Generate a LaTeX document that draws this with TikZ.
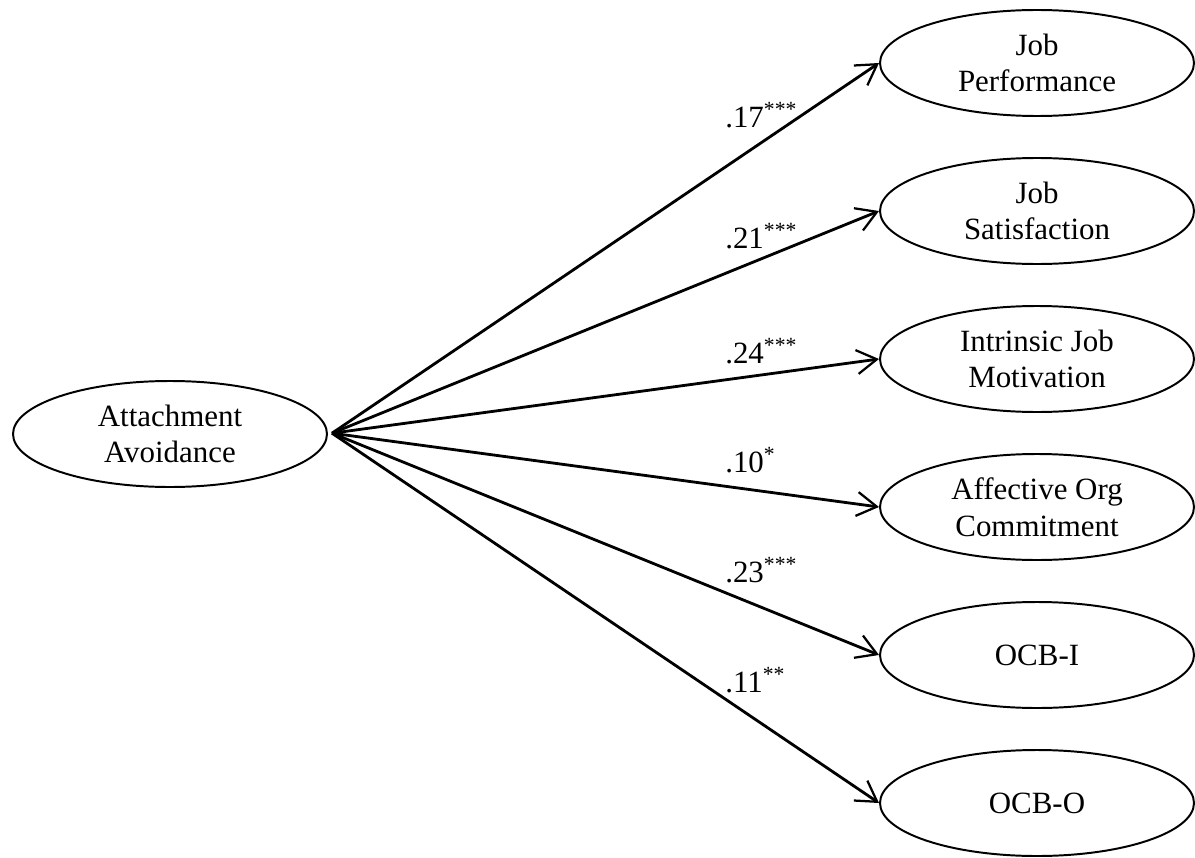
\documentclass[tikz,border=0pt]{standalone}
\usepackage{fontspec}
\setmainfont{Liberation Serif}
\usetikzlibrary{arrows.meta,shapes.geometric}

\begin{document}
\begin{tikzpicture}[
    >={Straight Barb[length=5mm,width=6mm,line width=1.6pt]},
    latent/.style = {ellipse, draw=black, line width=1.4pt, fill=white,
                     minimum width=7.85cm, minimum height=2.65cm,
                     align=center, inner sep=0pt,
                     font=\fontsize{22}{26}\selectfont},
    coef/.style   = {anchor=base west, inner sep=0pt,
                     font=\fontsize{22}{26}\selectfont},
    path/.style   = {->, line width=2pt},
  ]
  \useasboundingbox (0,0) rectangle (29.875,-21.45);
  % predictor
  \node[latent] (av) at (4.25,-10.85) {Attachment\\Avoidance};
  % outcomes
  \node[latent] (jp) at (25.925,-1.575)  {Job\\Performance};
  \node[latent] (js) at (25.925,-5.275)  {Job\\Satisfaction};
  \node[latent] (im) at (25.925,-8.975)  {Intrinsic Job\\Motivation};
  \node[latent] (ac) at (25.925,-12.675) {Affective Org\\Commitment};
  \node[latent] (oi) at (25.925,-16.375) {OCB-I};
  \node[latent] (oo) at (25.925,-20.075) {OCB-O};
  \coordinate (src) at (8.3,-10.83);
  % paths
  \foreach \o in {jp,js,im,ac,oi,oo}{\draw[path] (src) -- (\o.west);}
  % coefficients
  \node[coef] (cjp) at (18.125,-3.175)  {.17\textsuperscript{***}};
  \node[coef] (cjs) at (18.125,-6.2)    {.21\textsuperscript{***}};
  \node[coef] (cim) at (18.125,-9.075)  {.24\textsuperscript{***}};
  \node[coef] (cac) at (18.125,-11.8)   {.10\textsuperscript{*}};
  \node[coef] (coi) at (18.125,-14.55)  {.23\textsuperscript{***}};
  \node[coef] (coo) at (18.125,-17.3)   {.11\textsuperscript{**}};
\end{tikzpicture}
\end{document}
